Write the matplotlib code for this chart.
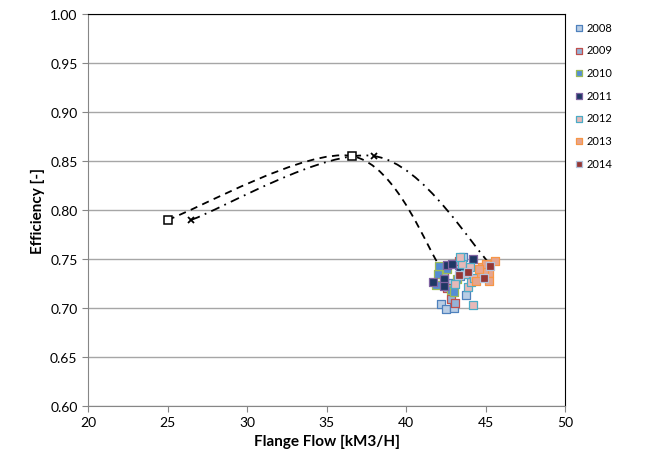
import numpy as np
import matplotlib
matplotlib.use("Agg")
import matplotlib.pyplot as plt
from matplotlib.path import Path
from matplotlib.patches import PathPatch

plt.rcParams['font.family'] = ['Lato', 'DejaVu Sans']

# design curves (Excel smoothed lines)
curve_a_x = [25.0, 36.6, 42.3]
curve_a_y = [0.790, 0.855, 0.738]
curve_b_x = [26.5, 38.0, 45.4]
curve_b_y = [0.790, 0.855, 0.743]

# measured operating points per year
years = ["2008", "2009", "2010", "2011", "2012", "2013", "2014"]
pts_x = {
    "2008": [42.2, 42.5, 43.0, 43.8, 43.3, 42.9, 43.6, 43.4],
    "2009": [42.8, 42.6, 43.3, 43.1, 42.4, 43.7],
    "2010": [42.0, 41.9, 42.8, 43.0, 42.1, 43.2, 42.6],
    "2011": [42.6, 44.2, 41.7, 42.4, 42.4, 43.4, 42.9],
    "2012": [44.2, 43.9, 44.1, 43.5, 43.1, 43.7, 44.0, 43.4, 44.3],
    "2013": [44.8, 45.2, 44.7, 45.2, 45.6, 44.4, 44.9, 45.0, 44.6],
    "2014": [45.3, 43.9, 44.9, 43.3],
}
pts_y = {
    "2008": [0.704, 0.699, 0.700, 0.713, 0.744, 0.726, 0.752, 0.733],
    "2009": [0.709, 0.720, 0.748, 0.705, 0.733, 0.740],
    "2010": [0.735, 0.723, 0.718, 0.716, 0.743, 0.730, 0.740],
    "2011": [0.744, 0.750, 0.727, 0.730, 0.722, 0.737, 0.745],
    "2012": [0.703, 0.721, 0.727, 0.745, 0.724, 0.735, 0.742, 0.752, 0.731],
    "2013": [0.742, 0.736, 0.733, 0.728, 0.748, 0.728, 0.738, 0.745, 0.740],
    "2014": [0.743, 0.737, 0.731, 0.734],
}
face = {"2008": "#B9CDE5", "2009": "#95B3D7", "2010": "#558ED5", "2011": "#1F3864",
        "2012": "#E6B9B8", "2013": "#E6A58F", "2014": "#953735"}
edge = {"2008": "#4F81BD", "2009": "#C0504D", "2010": "#9BBB59", "2011": "#8064A2",
        "2012": "#4BACC6", "2013": "#F79646", "2014": "#B3C3DC"}


def smooth_path(xs, ys):
    # Excel-like Catmull-Rom smoothing drawn as cubic Bezier
    p = np.column_stack([xs, ys])
    ext = np.vstack([p[0], p, p[-1]])
    verts = [p[0]]
    codes = [Path.MOVETO]
    for i in range(len(p) - 1):
        a, b, c, d = ext[i], ext[i + 1], ext[i + 2], ext[i + 3]
        verts += [b + (c - a) / 6, c - (d - b) / 6, c]
        codes += [Path.CURVE4] * 3
    return Path(verts, codes)


fig = plt.figure(figsize=(6.54, 4.64), dpi=100)
ax = fig.add_axes([0.1346, 0.1228, 0.7294, 0.8449])

ax.add_patch(PathPatch(smooth_path(curve_a_x, curve_a_y), fill=False,
                       edgecolor='black', lw=1.3, linestyle=(0, (4, 3)), zorder=2))
ax.add_patch(PathPatch(smooth_path(curve_b_x, curve_b_y), fill=False,
                       edgecolor='black', lw=1.3, linestyle=(0, (5, 3, 1, 3)), zorder=2))
ax.plot(curve_a_x[:2], curve_a_y[:2], 's', ms=5.5, mfc='white', mec='black', mew=1.1, zorder=3)
ax.plot(curve_b_x[:2], curve_b_y[:2], 'x', ms=5, color='black', mew=1.3, zorder=3)

for yr in years:
    ax.scatter(pts_x[yr], pts_y[yr], marker='s', s=30, c=face[yr],
               edgecolors=edge[yr], linewidths=0.9, label=yr, zorder=4)

ax.set_xlim(20, 50)
ax.set_ylim(0.60, 1.00)
ax.set_xticks(np.arange(20, 51, 5))
ax.set_yticks(np.arange(0.60, 1.001, 0.05))
ax.set_yticklabels([f"{v:.2f}" for v in np.arange(0.60, 1.001, 0.05)])
ax.yaxis.grid(True, color='#A6A6A6', lw=1.0)
ax.set_axisbelow(True)
ax.tick_params(labelsize=10, length=4, color='#868686', direction='out')
for s in ['left', 'bottom']:
    ax.spines[s].set_color('#868686')
for s in ['top', 'right']:
    ax.spines[s].set_color('black')

ax.set_xlabel("Flange Flow [kM3/H]", fontsize=11, fontweight='bold', labelpad=4)
ax.set_ylabel("Efficiency [-]", fontsize=11, fontweight='bold', labelpad=4)

leg = ax.legend(loc='upper left', bbox_to_anchor=(1.005, 1.0), frameon=False,
                fontsize=8, handlelength=0.6, handletextpad=0.4,
                labelspacing=1.05, markerscale=0.75, borderaxespad=0.3)

fig.savefig("out.png", dpi=100)
